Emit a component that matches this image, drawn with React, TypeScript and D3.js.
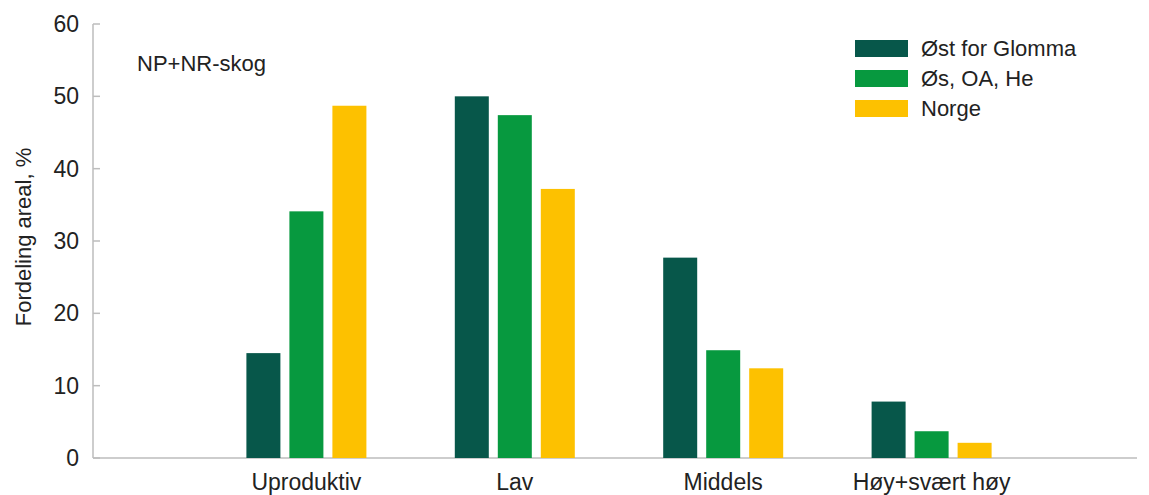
import React from "react";
import * as d3 from "d3";

const categories = ["Uproduktiv", "Lav", "Middels", "Høy+svært høy"];
const seriesNames = ["Øst for Glomma", "Øs, OA, He", "Norge"];
const ostForGlomma = [14.5, 50.0, 27.7, 7.8];
const osOaHe = [34.1, 47.4, 14.9, 3.7];
const norge = [48.7, 37.2, 12.4, 2.1];
const colors = ["#07574a", "#07993f", "#fdc100"];
const yTicks = [0, 10, 20, 30, 40, 50, 60];

const W = 1149;
const H = 495;
const left = 93;
const right = 1137;
const top = 24;
const bottom = 458;

export default function App() {
  const series = [ostForGlomma, osOaHe, norge];
  const x = d3.scalePoint<string>().domain(categories).range([98, 1140]).padding(1);
  const y = d3.scaleLinear().domain([0, 60]).range([bottom, top]);
  const barW = 34;
  const barStep = 43;
  const font = "'Liberation Sans', Arial, sans-serif";

  return (
    <svg width={W} height={H} style={{ position: "absolute", left: 0, top: 0, background: "#fff" }} fontFamily={font}>
      <line x1={left} x2={left} y1={top} y2={bottom} stroke="#bdbdbd" strokeWidth={1.5} />
      <line x1={left} x2={right} y1={bottom} y2={bottom} stroke="#bdbdbd" strokeWidth={1.5} />
      {yTicks.map((t) => (
        <g key={t}>
          <line x1={left} x2={left + 7} y1={y(t)} y2={y(t)} stroke="#bdbdbd" strokeWidth={1.5} />
          <text x={79} y={y(t)} dy="0.35em" textAnchor="end" fontSize={23} fill="#222">
            {t}
          </text>
        </g>
      ))}
      <text
        transform={`translate(31,237) rotate(-90)`}
        textAnchor="middle"
        fontSize={22}
        fill="#222"
      >
        Fordeling areal, %
      </text>
      <text x={137} y={71} fontSize={22} fill="#222">
        NP+NR-skog
      </text>
      {categories.map((c, ci) =>
        series.map((s, si) => {
          const cx = (x(c) as number) + (si - 1) * barStep;
          return (
            <rect
              key={c + si}
              x={cx - barW / 2}
              y={y(s[ci])}
              width={barW}
              height={bottom - y(s[ci])}
              fill={colors[si]}
            />
          );
        })
      )}
      {categories.map((c) => (
        <text key={c} x={x(c) as number} y={490} textAnchor="middle" fontSize={23} fill="#222">
          {c}
        </text>
      ))}
      {seriesNames.map((n, i) => (
        <g key={n} transform={`translate(855,${48 + i * 30})`}>
          <rect x={0} y={-8} width={53} height={17} fill={colors[i]} />
          <text x={66} y={0} dy="0.35em" fontSize={22} fill="#222">
            {n}
          </text>
        </g>
      ))}
    </svg>
  );
}
